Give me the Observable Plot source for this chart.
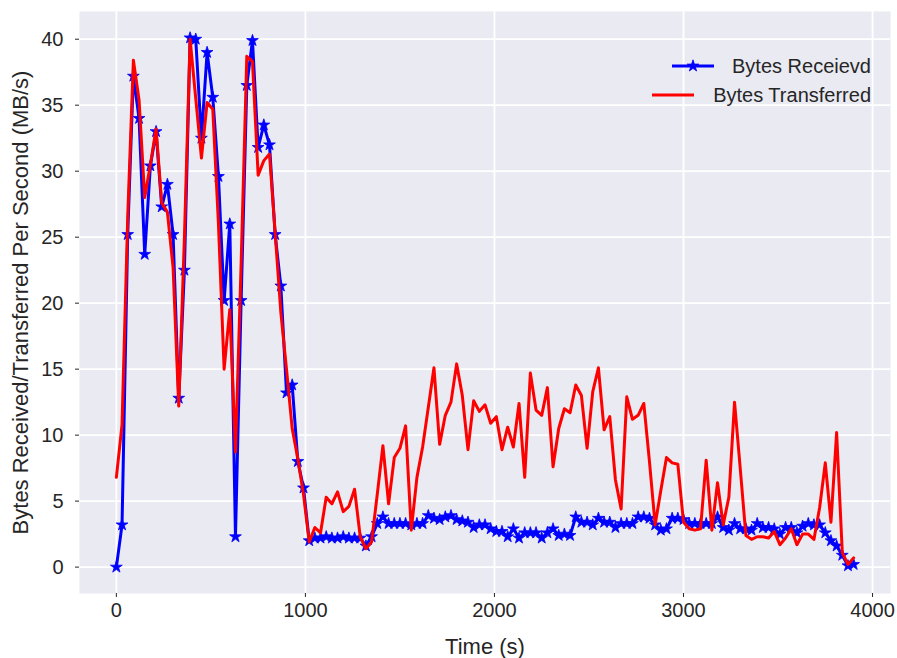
<!DOCTYPE html>
<html>
<head>
<meta charset="utf-8">
<script src="https://cdn.jsdelivr.net/npm/d3@7"></script>
<script src="https://cdn.jsdelivr.net/npm/@observablehq/plot@0.6"></script>
<style>
  html, body { margin: 0; padding: 0; background: #ffffff; }
  #chart { width: 897px; height: 658px; }
</style>
</head>
<body>
<div id="chart"></div>
<script>
const times = [
  0,30,60,90,120,150,180,210,240,270,
  300,330,360,390,420,450,480,510,540,570,
  600,630,660,690,720,750,780,810,840,870,
  900,930,960,990,1020,1050,1080,1110,1140,1170,
  1200,1230,1260,1290,1320,1350,1380,1410,1440,1470,
  1500,1530,1560,1590,1620,1650,1680,1710,1740,1770,
  1800,1830,1860,1890,1920,1950,1980,2010,2040,2070,
  2100,2130,2160,2190,2220,2250,2280,2310,2340,2370,
  2400,2430,2460,2490,2520,2550,2580,2610,2640,2670,
  2700,2730,2760,2790,2820,2850,2880,2910,2940,2970,
  3000,3030,3060,3090,3120,3150,3180,3210,3240,3270,
  3300,3330,3360,3390,3420,3450,3480,3510,3540,3570,
  3600,3630,3660,3690,3720,3750,3780,3810,3840,3870,
  3900
];

const bytesReceived = [
  0, 3.2, 25.2, 37.2, 34.0, 23.7, 30.4, 33.0, 27.3, 29.0,
  25.2, 12.8, 22.5, 40.1, 40.0, 32.5, 39.0, 35.6, 29.6, 20.2,
  26.0, 2.3, 20.2, 36.5, 39.9, 31.8, 33.5, 32.0, 25.2, 21.3,
  13.2, 13.8, 8.0, 6.0, 2.0, 2.2, 2.2, 2.3, 2.2, 2.2,
  2.3, 2.2, 2.2, 2.2, 1.6, 2.3, 3.3, 3.8, 3.3, 3.3,
  3.3, 3.3, 3.2, 3.3, 3.3, 3.9, 3.7, 3.6, 3.8, 3.9,
  3.6, 3.5, 3.4, 3.0, 3.2, 3.2, 2.9, 2.7, 2.7, 2.3,
  2.9, 2.2, 2.6, 2.6, 2.6, 2.2, 2.6, 2.9, 2.4, 2.5,
  2.4, 3.8, 3.4, 3.4, 3.2, 3.7, 3.4, 3.4, 3.0, 3.3,
  3.3, 3.3, 3.8, 3.8, 3.7, 3.2, 2.8, 2.9, 3.7, 3.7,
  3.6, 3.3, 3.3, 3.3, 3.3, 3.3, 3.8, 3.0, 2.8, 3.3,
  2.9, 2.9, 2.8, 3.3, 3.0, 3.0, 2.9, 2.5, 3.0, 3.0,
  2.6, 3.1, 3.3, 3.2, 3.2, 2.6, 2.0, 1.6, 0.9, 0.1,
  0.2
];

const bytesTransferred = [
  6.8, 10.8, 26.5, 38.4, 35.4, 28.0, 30.5, 33.2, 27.6, 26.9,
  22.7, 12.2, 25.0, 40.0, 35.5, 31.0, 35.2, 34.7, 26.0, 15.0,
  19.5, 8.7, 23.0, 38.7, 38.3, 29.7, 30.8, 31.3, 25.3, 19.3,
  15.0, 10.5, 8.2, 5.5, 1.9, 3.0, 2.6, 5.3, 4.8, 5.7,
  4.2, 4.6, 5.9, 2.3, 1.4, 1.9, 5.5, 9.2, 4.8, 8.3,
  9.0, 10.7, 2.8, 6.8, 9.1, 12.1, 15.1, 9.3, 11.5, 12.5,
  15.4, 13.0, 8.9, 12.6, 11.8, 12.3, 10.9, 11.4, 8.9, 10.6,
  9.1, 12.4, 6.8, 14.7, 11.9, 11.5, 13.6, 7.6, 10.5, 12.0,
  11.7, 13.8, 13.0, 9.0, 13.3, 15.1, 10.4, 11.4, 6.6, 4.4,
  12.9, 11.2, 11.5, 12.4, 8.0, 3.2, 5.8, 8.3, 7.9, 7.8,
  3.4, 2.9, 2.8, 2.9, 8.1, 2.8, 6.4, 3.2, 5.3, 12.5,
  7.5, 2.4, 2.1, 2.3, 2.3, 2.2, 2.7, 1.7, 2.2, 2.9,
  1.7, 2.5, 2.5, 2.1, 4.5, 7.9, 3.4, 10.2, 1.1, 0.2,
  0.7
];

const seriesNames = ["Bytes Receievd", "Bytes Transferred"];
const seriesColors = ["#0000ff", "#ff0000"];
const xTicks = [0, 1000, 2000, 3000, 4000];
const yTicks = [0, 5, 10, 15, 20, 25, 30, 35, 40];
const xLabel = "Time (s)";
const yLabel = "Bytes Received/Transferred Per Second (MB/s)";

const data = times.map((t, i) => ({t, recv: bytesReceived[i], xfer: bytesTransferred[i]}));

const FONT = "'Liberation Sans', Arial, Helvetica, sans-serif";
const TXT = "#262626";

const svg = Plot.plot({
  width: 897,
  height: 658,
  marginLeft: 79,
  marginRight: 7,
  marginTop: 11,
  marginBottom: 65,
  style: {fontFamily: FONT, fontSize: "20px", color: TXT, background: "#ffffff"},
  x: {domain: [-195, 4095]},
  y: {domain: [-2.0, 42.1]},
  marks: [
    Plot.frame({fill: "#EAEAF2", stroke: null}),
    Plot.gridX(xTicks, {stroke: "#ffffff", strokeOpacity: 1, strokeWidth: 1.8}),
    Plot.gridY(yTicks, {stroke: "#ffffff", strokeOpacity: 1, strokeWidth: 1.8}),
    Plot.axisX(xTicks, {tickSize: 4, tickPadding: 5, label: null, tickFormat: d => String(d), fontSize: 20}),
    Plot.axisY(yTicks, {tickSize: 4, tickPadding: 12, label: null, tickFormat: d => String(d), fontSize: 20}),
    Plot.line(data, {x: "t", y: "recv", stroke: seriesColors[0], strokeWidth: 3}),
    Plot.dot(data, {x: "t", y: "recv", symbol: "star", fill: seriesColors[0], stroke: seriesColors[0], strokeWidth: 0.8, r: 3.7}),
    Plot.line(data, {x: "t", y: "xfer", stroke: seriesColors[1], strokeWidth: 3}),
    Plot.text([xLabel], {text: d => d, frameAnchor: "bottom", lineAnchor: "middle", dy: 53, fontSize: 22, fill: TXT}),
    Plot.text([yLabel], {text: d => d, frameAnchor: "left", textAnchor: "middle", lineAnchor: "middle", rotate: -90, dx: -59, fontSize: 22, fill: TXT})
  ]
});

// Legend inside the plot, top-right (matplotlib style, no visible frame)
const lg = d3.select(svg).append("g")
  .attr("font-family", FONT)
  .attr("font-size", 20)
  .attr("fill", TXT);
const legendRows = [
  {name: seriesNames[0], color: seriesColors[0], marker: true, y: 66, x0: 672, x1: 714},
  {name: seriesNames[1], color: seriesColors[1], marker: false, y: 95, x0: 652, x1: 694}
];
legendRows.forEach(r => {
  lg.append("line")
    .attr("x1", r.x0).attr("x2", r.x1).attr("y1", r.y).attr("y2", r.y)
    .attr("stroke", r.color).attr("stroke-width", 3);
  if (r.marker) {
    lg.append("path")
      .attr("d", d3.symbol(d3.symbolStar, Math.PI * 3.7 * 3.7)())
      .attr("transform", `translate(${(r.x0 + r.x1) / 2},${r.y})`)
      .attr("fill", r.color).attr("stroke", r.color).attr("stroke-width", 0.8);
  }
  lg.append("text")
    .attr("x", 871).attr("y", r.y)
    .attr("dy", "0.35em")
    .attr("text-anchor", "end")
    .text(r.name);
});

document.getElementById("chart").appendChild(svg);
</script>
</body>
</html>
